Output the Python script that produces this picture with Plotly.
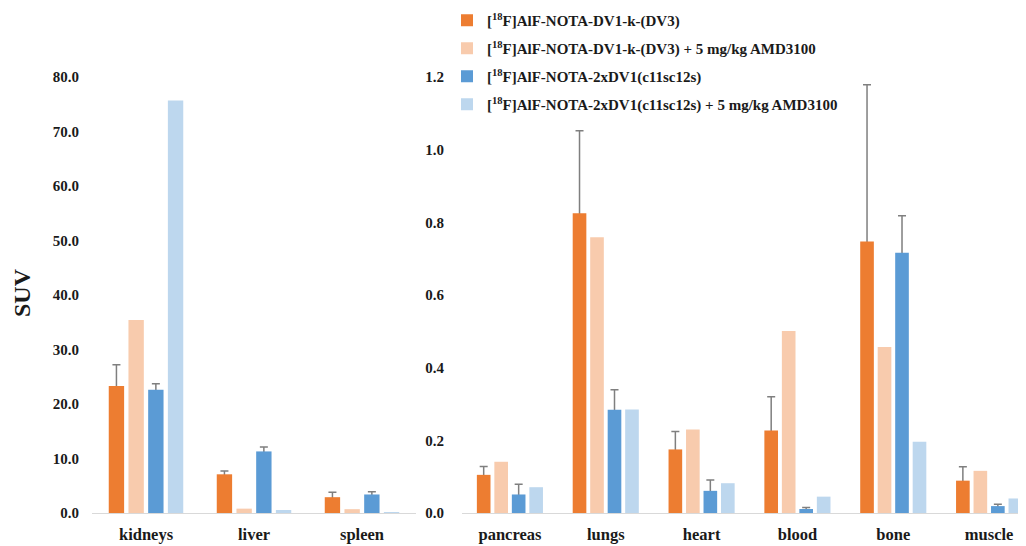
import plotly.graph_objects as go

# ---------------- data ----------------
organs_left = ["kidneys", "liver", "spleen"]
organs_right = ["pancreas", "lungs", "heart", "blood", "bone", "muscle"]

series_names = [
    "[<sup>18</sup>F]AlF-NOTA-DV1-k-(DV3)",
    "[<sup>18</sup>F]AlF-NOTA-DV1-k-(DV3) + 5 mg/kg AMD3100",
    "[<sup>18</sup>F]AlF-NOTA-2xDV1(c11sc12s)",
    "[<sup>18</sup>F]AlF-NOTA-2xDV1(c11sc12s) + 5 mg/kg AMD3100",
]

# left panel (kidneys, liver, spleen)
dv3_left = [23.3, 7.1, 2.9]
dv3_left_err = [3.9, 0.6, 0.9]
dv3_amd_left = [35.4, 0.8, 0.7]
c11_left = [22.6, 11.3, 3.4]
c11_left_err = [1.1, 0.8, 0.5]
c11_amd_left = [75.7, 0.55, 0.1]

# right panel (pancreas ... muscle)
dv3_right = [0.105, 0.825, 0.175, 0.227, 0.747, 0.089]
dv3_right_err = [0.023, 0.227, 0.049, 0.093, 0.432, 0.038]
dv3_amd_right = [0.141, 0.759, 0.230, 0.501, 0.457, 0.116]
c11_right = [0.051, 0.284, 0.061, 0.011, 0.716, 0.019]
c11_right_err = [0.028, 0.055, 0.030, 0.004, 0.102, 0.005]
c11_amd_right = [0.071, 0.285, 0.082, 0.045, 0.196, 0.040]

colors = ["#ED7D31", "#F8CBAD", "#5B9BD5", "#BDD7EE"]

FONT = "Liberation Serif"
TXT = "#1a1a1a"

left_vals = [dv3_left, dv3_amd_left, c11_left, c11_amd_left]
left_errs = [dv3_left_err, None, c11_left_err, None]
right_vals = [dv3_right, dv3_amd_right, c11_right, c11_amd_right]
right_errs = [dv3_right_err, None, c11_right_err, None]

fig = go.Figure()


def add_panel(cats, vals, errs, xa, ya, legend):
    # error bars first (on transparent bars in the same slot), so the opaque
    # bars drawn afterwards hide the lower half: only the upward whisker shows
    for i in range(4):
        eb = None
        if errs[i] is not None:
            eb = dict(type="data", array=errs[i], symmetric=True,
                      color="#7f7f7f", thickness=1.5, width=4)
        fig.add_trace(go.Bar(
            x=cats, y=vals[i], marker=dict(color="rgba(0,0,0,0)", line=dict(width=0)),
            error_y=eb, xaxis=xa, yaxis=ya, showlegend=False, hoverinfo="skip",
            offsetgroup=str(i), legendgroup=f"g{i}",
        ))
    for i in range(4):
        fig.add_trace(go.Bar(
            x=cats, y=vals[i], name=series_names[i],
            marker=dict(color=colors[i], line=dict(width=0)),
            xaxis=xa, yaxis=ya, legendgroup=f"g{i}", showlegend=legend,
            offsetgroup=str(i),
        ))


add_panel(organs_left, left_vals, left_errs, "x", "y", True)
add_panel(organs_right, right_vals, right_errs, "x2", "y2", False)

# page has an 8px body margin: figure is drawn 8px in from the top-left
OFF = 8
W, H = 1026 - OFF, 546 - OFF
ytop, ybot = 77 - OFF, 513 - OFF

fig.update_layout(
    width=W, height=H,
    margin=dict(l=0, r=0, t=0, b=0, autoexpand=False),
    paper_bgcolor="white", plot_bgcolor="white",
    barmode="group", bargap=0.27, bargroupgap=0.22,
    font=dict(family=FONT, color=TXT),
    xaxis=dict(domain=[(92 - OFF) / W, (416 - OFF) / W], range=[-0.5, 2.5], showline=True,
               linecolor="#d9d9d9", linewidth=1, showgrid=False, ticks="",
               tickfont=dict(family=FONT, size=16.5, color=TXT, weight="bold"),
               ticklabelstandoff=6, automargin=False),
    yaxis=dict(domain=[(H - ybot) / H, (H - ytop) / H], range=[0, 80], dtick=10,
               tickformat=".1f", showline=False, showgrid=False, zeroline=False,
               ticks="", tickfont=dict(family=FONT, size=15, color=TXT, weight="bold"),
               ticklabelstandoff=12, automargin=False),
    xaxis2=dict(domain=[(462 - OFF) / W, 1.0], range=[-0.5, 5.385], showline=True,
                linecolor="#d9d9d9", linewidth=1, showgrid=False, ticks="",
                tickfont=dict(family=FONT, size=16.5, color=TXT, weight="bold"),
                ticklabelstandoff=6, automargin=False, anchor="y2"),
    yaxis2=dict(domain=[(H - ybot) / H, (H - ytop) / H], range=[0, 1.2], dtick=0.2,
                tickformat=".1f", showline=False, showgrid=False, zeroline=False,
                ticks="", tickfont=dict(family=FONT, size=15, color=TXT, weight="bold"),
                ticklabelstandoff=17, automargin=False, anchor="x2"),
    legend=dict(x=(447 - OFF) / W, y=1 + 4 / H, xanchor="left", yanchor="top",
                font=dict(family=FONT, size=15, color=TXT, weight="bold"),
                tracegroupgap=5.5, bgcolor="rgba(0,0,0,0)", itemwidth=30,
                traceorder="grouped"),
    annotations=[dict(text="<b>SUV</b>", x=(22 - OFF) / W, y=(H - (293 - OFF)) / H,
                      xref="paper", yref="paper", textangle=-90, showarrow=False,
                      xanchor="center", yanchor="middle",
                      font=dict(family=FONT, size=24, color=TXT))],
)

fig.write_html("out.html")
